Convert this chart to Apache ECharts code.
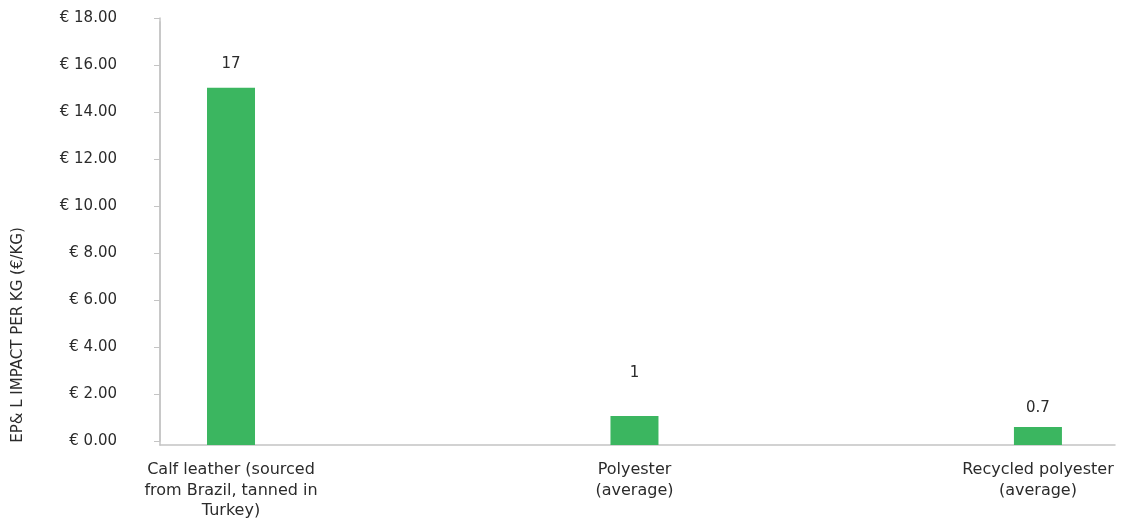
<!DOCTYPE html>
<html>
<head>
<meta charset="utf-8">
<script src="https://cdn.jsdelivr.net/npm/echarts@6/dist/echarts.min.js"></script>
<style>html,body{margin:0;padding:0;background:#fff}#c{width:1121px;height:523px}</style>
</head>
<body>
<div id="c"></div>
<script>
var categories = ['Calf leather (sourced\nfrom Brazil, tanned in\nTurkey)', 'Polyester\n(average)', 'Recycled polyester\n(average)'];
var values = [15.2, 1.23, 0.77];
var valueLabels = ['17', '1', '0.7'];
var yTicks = [0, 2, 4, 6, 8, 10, 12, 14, 16, 18];
var yAxisTitle = 'EP& L IMPACT PER KG (€/KG)';

var FONT = '"DejaVu Sans", sans-serif';
var TXT = '#2b2b2b';
var AX = '#c4c4c4';
var labelDist = [16, 35, 11];

var chart = echarts.init(document.getElementById('c'), null, {renderer: 'canvas'});
var catIdx = categories.map(function (c, i) { return i; });

chart.setOption({
  animation: false,
  backgroundColor: '#fff',
  grid: [
    {left: 160, right: 6, top: 18, bottom: 82},
    {left: 160, right: 6, top: 22, bottom: 78}
  ],
  xAxis: [
    {gridIndex: 0, type: 'value', min: -0.176, max: 2.191, show: false},
    {gridIndex: 1, type: 'value', min: -0.176, max: 2.191,
     splitLine: {show: false},
     axisLine: {show: true, onZero: false, lineStyle: {color: AX, width: 1.5}},
     axisTick: {show: false},
     axisLabel: {
       customValues: catIdx,
       formatter: function (v) { return categories[Math.round(v)] || ''; },
       color: TXT, fontFamily: FONT, fontSize: 16, lineHeight: 20.5, margin: 15, align: 'center'
     }}
  ],
  yAxis: [
    {gridIndex: 0, type: 'value', min: yTicks[0], max: yTicks[yTicks.length - 1], interval: 2,
     splitLine: {show: false},
     axisLine: {show: true, onZero: false, lineStyle: {color: AX, width: 1.5}},
     axisTick: {show: true, length: 6, lineStyle: {color: AX, width: 1}},
     axisLabel: {
       formatter: function (v) { return '€ ' + v.toFixed(2); },
       color: TXT, fontFamily: FONT, fontSize: 15, margin: 43
     }},
    {gridIndex: 1, type: 'value', min: yTicks[0], max: yTicks[yTicks.length - 1],
     splitLine: {show: false},
     axisLine: {show: true, onZero: false, lineStyle: {color: AX, width: 1.5}},
     axisTick: {show: false}, axisLabel: {show: false}}
  ],
  graphic: [{
    type: 'text', x: 18, y: 335, rotation: Math.PI / 2,
    style: {text: yAxisTitle, fill: TXT, font: '15px ' + FONT, align: 'center', verticalAlign: 'middle'}
  }],
  series: [{
    type: 'bar', xAxisIndex: 1, yAxisIndex: 1, barWidth: 48,
    itemStyle: {color: '#3bb660'},
    data: values.map(function (v, i) {
      return {value: [i, v], label: {distance: labelDist[i]}};
    }),
    label: {
      show: true, position: 'top', color: TXT, fontFamily: FONT, fontSize: 15,
      formatter: function (p) { return valueLabels[p.dataIndex]; }
    }
  }]
});
</script>
</body>
</html>
